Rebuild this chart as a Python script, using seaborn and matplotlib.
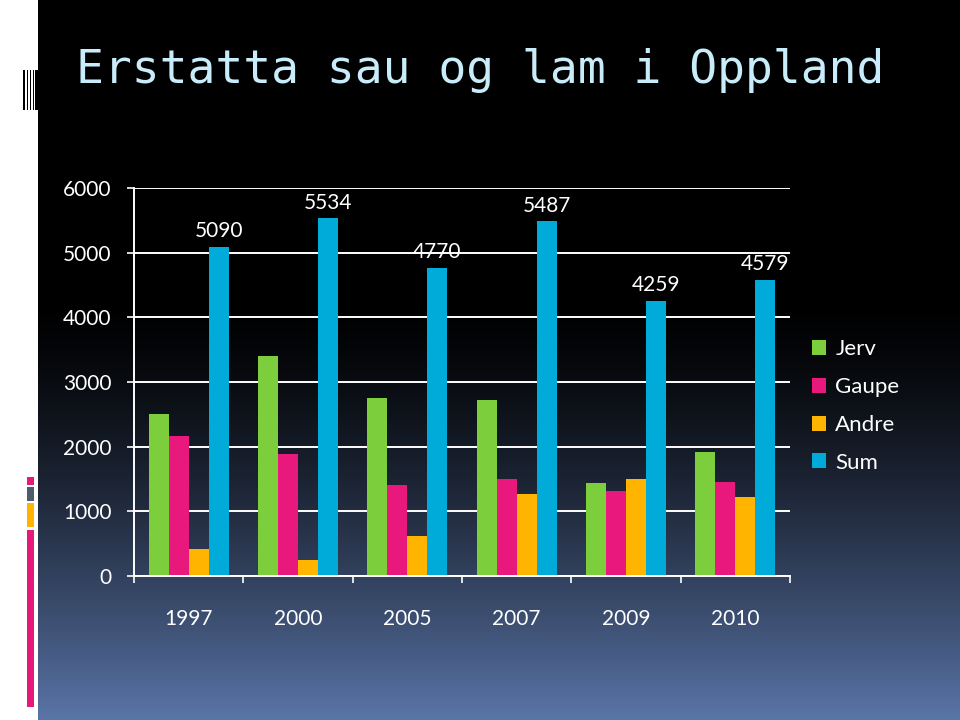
import numpy as np
import pandas as pd
import matplotlib
matplotlib.use("Agg")
import matplotlib.pyplot as plt
from matplotlib.patches import Rectangle, Patch
import seaborn as sns

# ---- data ----
years = ["1997", "2000", "2005", "2007", "2009", "2010"]
series = ["Jerv", "Gaupe", "Andre", "Sum"]
jerv = [2500, 3400, 2750, 2720, 1440, 1910]
gaupe = [2170, 1880, 1400, 1500, 1320, 1450]
andre = [420, 254, 620, 1267, 1499, 1219]
total = [5090, 5534, 4770, 5487, 4259, 4579]
colors = ["#7dce3c", "#e8187c", "#ffb400", "#00aad9"]
title = "Erstatta sau og lam i Oppland"

df = pd.DataFrame({
    "År": years * 4,
    "Serie": [s for s in series for _ in years],
    "Verdi": jerv + gaupe + andre + total,
})

sns.set_theme(style="white")
plt.rcParams["font.family"] = ["Lato", "DejaVu Sans"]

W, H = 960, 720
fig = plt.figure(figsize=(9.6, 7.2), dpi=100, facecolor="black")

# background gradient
bg = fig.add_axes([0, 0, 1, 1], zorder=-10)
yy = np.arange(H)
t = np.clip((yy - 300) / 420.0, 0, 1) ** 1.4
bot = np.array([90, 117, 168]) / 255.0
img = (t[:, None] * bot[None, :])
img = np.repeat(img[:, None, :], 10, axis=1)
bg.imshow(img, aspect="auto", extent=[0, 1, 0, 1], origin="upper")
bg.set_xlim(0, 1)
bg.set_ylim(0, 1)
bg.axis("off")

# left decorative strip
def fr(x0, y0, x1, y1, c):
    fig.patches.append(Rectangle((x0 / W, 1 - y1 / H), (x1 - x0) / W, (y1 - y0) / H,
                                 transform=fig.transFigure, color=c, zorder=-5, lw=0))

fr(0, 0, 38, 720, "white")
for x0, x1 in [(22.7, 24.5), (26.5, 27.8), (29.5, 31), (32.5, 33.8), (35, 38)]:
    fr(x0, 70, x1, 110, "black")
fr(27, 477, 34, 484.5, "#e6197a")
fr(27, 487, 34, 501, "#4f5a6a")
fr(27, 503, 34, 527, "#ffb400")
fr(27, 530, 34, 707, "#e6197a")

# main axes
ax = fig.add_axes([134 / W, 1 - 576 / H, 656 / W, 388 / H])
ax.set_facecolor("none")
sns.barplot(data=df, x="År", y="Verdi", hue="Serie", palette=colors, width=0.73,
            gap=0, saturation=1, errorbar=None, edgecolor="none", linewidth=0,
            legend=False, ax=ax)
ax.set_ylim(0, 6000)
ax.set_xlim(-0.5, 5.5)
ax.set_yticks(range(0, 7000, 1000))
ax.yaxis.grid(True, color="white", lw=1.4)
ax.xaxis.grid(False)
ax.set_axisbelow(True)
for s in ["top", "right"]:
    ax.spines[s].set_visible(False)
for s in ["left", "bottom"]:
    ax.spines[s].set_color("white")
    ax.spines[s].set_linewidth(1.4)
ax.set_xlabel("")
ax.set_ylabel("")
ax.tick_params(axis="y", colors="white", length=5, width=1.2, pad=11,
               labelsize=15, left=True, direction="out")
ax.tick_params(axis="x", which="major", length=0, pad=24, labelsize=15, labelcolor="white")
ax.set_xticks(np.arange(-0.5, 6, 1), minor=True)
ax.tick_params(axis="x", which="minor", length=5, width=1.2, color="white",
               bottom=True, direction="out")

# labels above Sum bars
sum_container = ax.containers[3]
ax.bar_label(sum_container, labels=[str(v) for v in total], padding=4,
             color="white", fontsize=15)

# legend
handles = [Patch(facecolor=c, edgecolor="none", label=s) for c, s in zip(colors, series)]
leg = fig.legend(handles=handles, loc="center left",
                 bbox_to_anchor=(812 / W, 1 - 406 / H), frameon=False,
                 fontsize=16, handlelength=0.65, handleheight=0.65,
                 handletextpad=0.4, labelspacing=0.8, borderpad=0,
                 borderaxespad=0)
for txt in leg.get_texts():
    txt.set_color("white")

# title
fig.text(76 / W, 1 - 83 / H, title, family=["DejaVu Sans Mono"], fontsize=33.4,
         color="#c8ecfa", ha="left", va="baseline")

fig.savefig("out.png", dpi=100, facecolor="black")
